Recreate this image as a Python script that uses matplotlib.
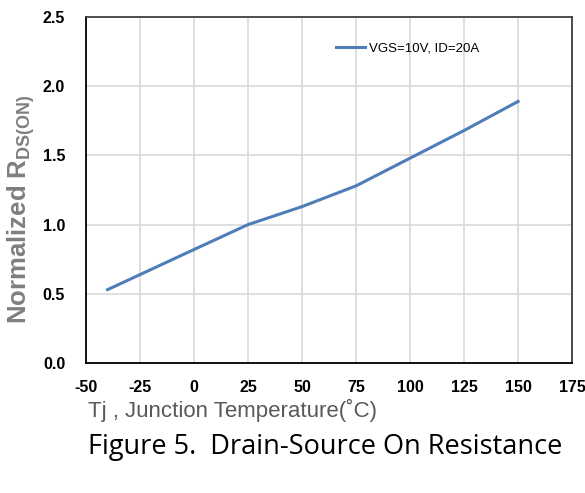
import numpy as np
import matplotlib.pyplot as plt

# dados
temp_c = [-40, 0, 25, 50, 75, 100, 125, 150]
rds_norm = [0.53, 0.82, 1.00, 1.13, 1.28, 1.48, 1.68, 1.89]
x_ticks = [-50, -25, 0, 25, 50, 75, 100, 125, 150, 175]
y_ticks = [0.0, 0.5, 1.0, 1.5, 2.0, 2.5]
serie_label = 'VGS=10V, ID=20A'

fonte = ['Liberation Sans', 'DejaVu Sans']

fig = plt.figure(figsize=(5.85, 4.93), dpi=100)
ax = fig.add_axes([0.147, 0.2637, 0.831, 0.7018])

ax.plot(temp_c, rds_norm, color='#4f7db8', linewidth=2.2, label=serie_label)

ax.set_xlim(-50, 175)
ax.set_ylim(0, 2.5)
ax.set_xticks(x_ticks)
ax.set_yticks(y_ticks)
ax.set_xticklabels([str(t) for t in x_ticks], family=fonte, fontweight='bold', fontsize=11.5)
ax.set_yticklabels(['%.1f' % t for t in y_ticks], family=fonte, fontweight='bold', fontsize=11.5)
ax.tick_params(length=0)
ax.tick_params(axis='y', pad=15)
ax.tick_params(axis='x', pad=12)
ax.grid(True, color='#d9d9d9', linewidth=1.2)
ax.set_axisbelow(True)

for s in ['left', 'bottom']:
    ax.spines[s].set_color('black')
    ax.spines[s].set_linewidth(1.3)
for s in ['top', 'right']:
    ax.spines[s].set_color('#404040')
    ax.spines[s].set_linewidth(1.3)

leg = ax.legend(loc='upper left', bbox_to_anchor=(0.49, 0.96), frameon=False,
                handlelength=2.2, handletextpad=0.3, prop={'family': fonte, 'size': 9.5})

fig.text(0.036, 0.575, r'Normalized R$_{\mathregular{DS(ON)}}$', fontsize=18.5, fontweight='bold',
         color='#7f7f7f', family=fonte, rotation=90, ha='center', va='center')

fig.text(0.151, 0.168, 'Tj , Junction Temperature(˚C)', fontsize=16, color='#595959',
         family=fonte, ha='left', va='center')
fig.text(0.150, 0.093, 'Figure 5.  Drain-Source On Resistance', fontsize=19.5, color='black',
         family='Open Sans', ha='left', va='center')

plt.savefig('out.png', dpi=100)
